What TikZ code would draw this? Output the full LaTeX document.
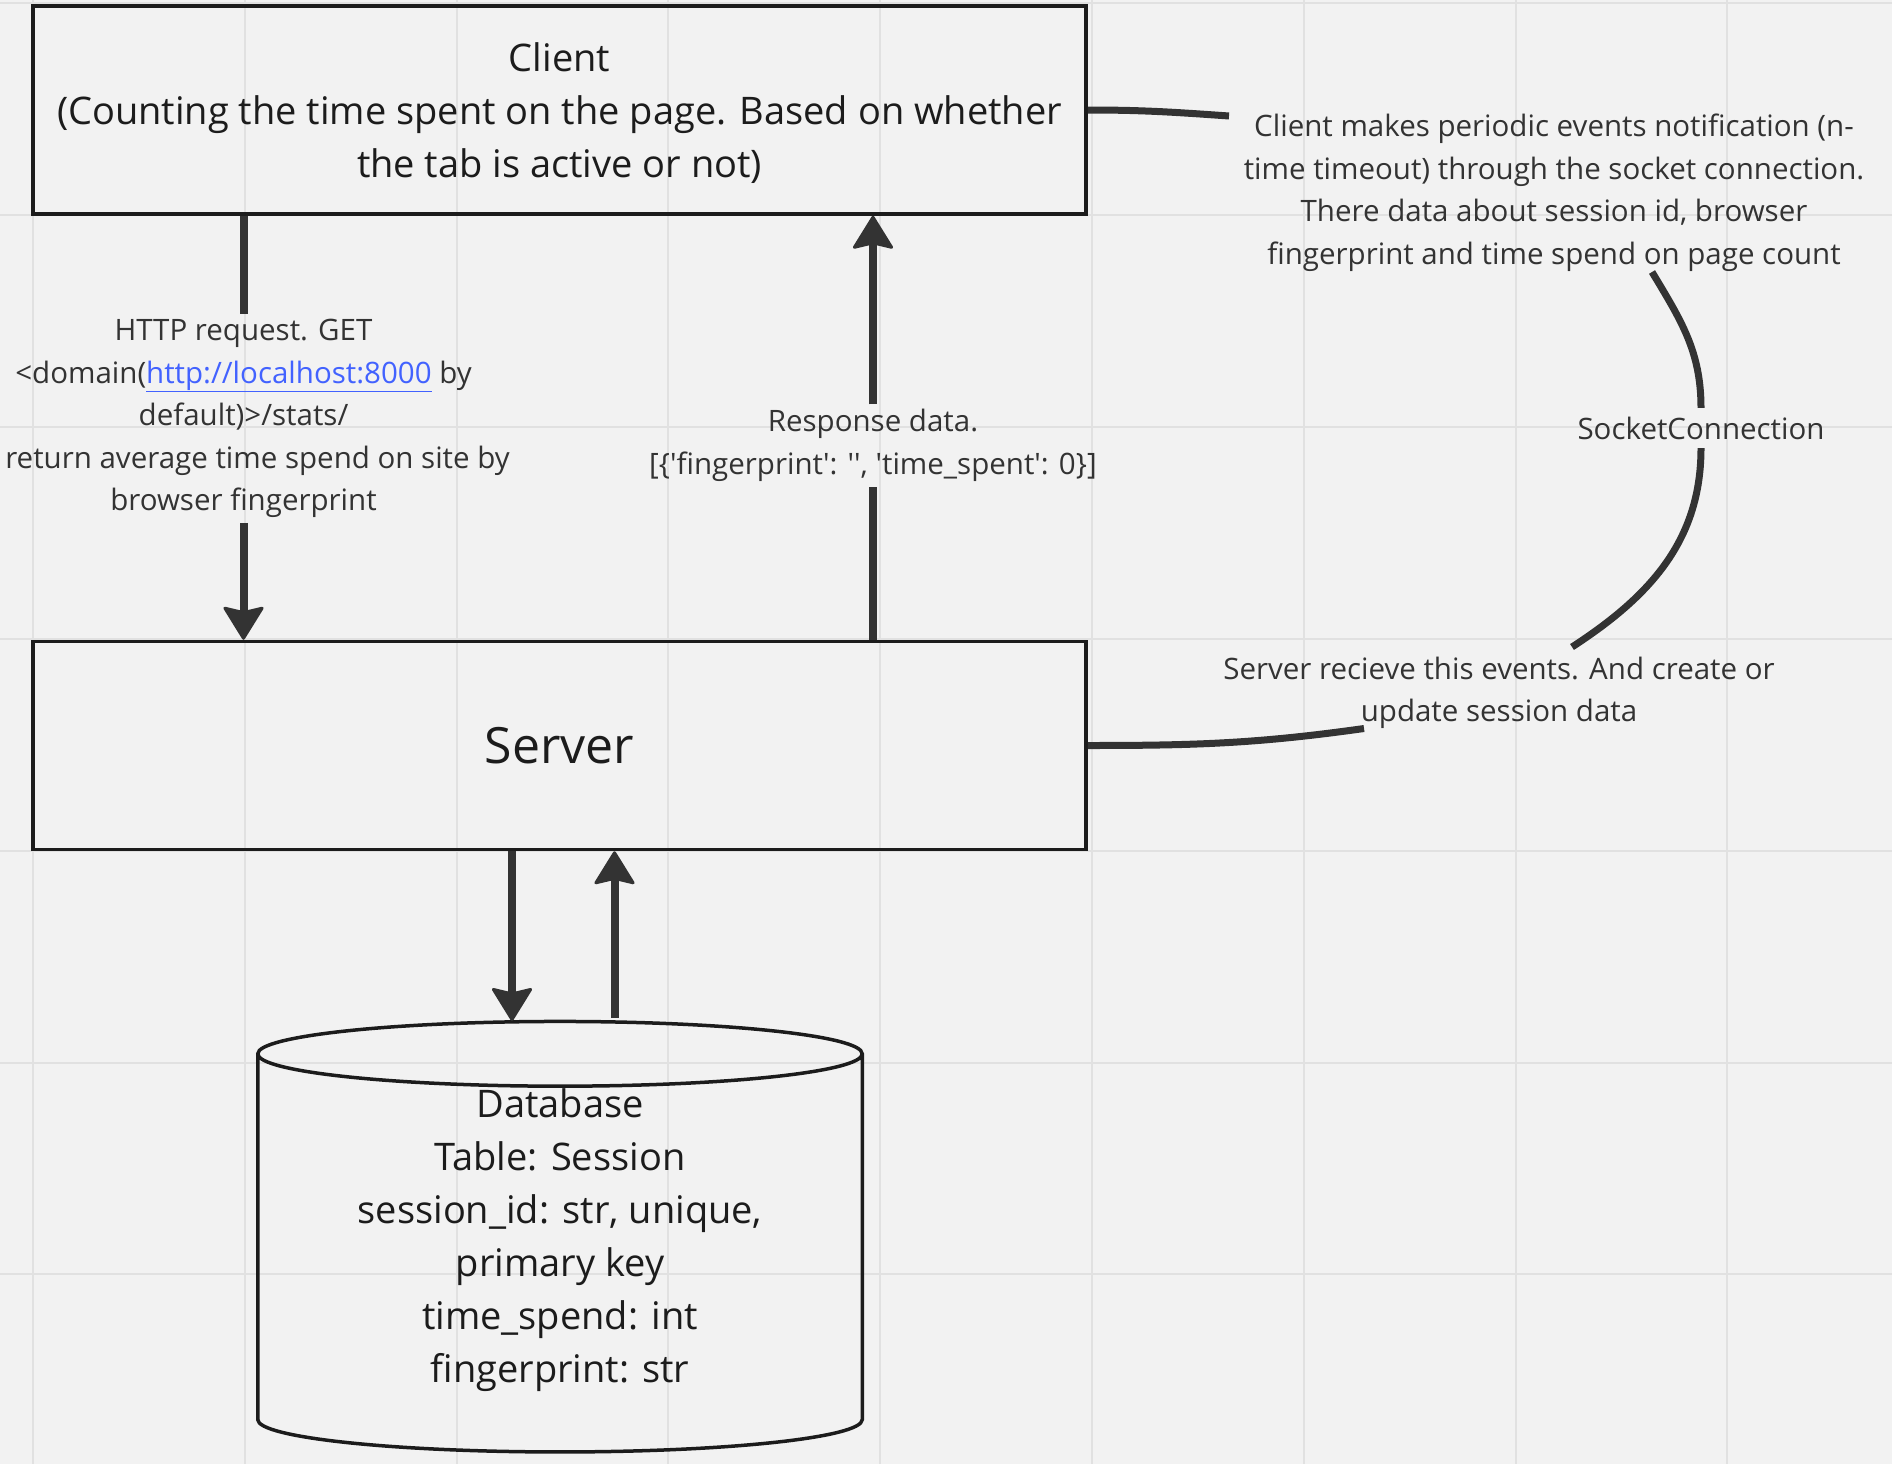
\documentclass[tikz,border=0pt]{standalone}
\usepackage{fontspec}
\setmainfont{Open Sans}
\usetikzlibrary{arrows.meta,shapes.geometric}
\definecolor{bgcol}{HTML}{F2F2F2}
\definecolor{gridcol}{HTML}{E1E1E1}
\definecolor{boxcol}{HTML}{1C1C1C}
\definecolor{linecol}{HTML}{333333}
\definecolor{txtcol}{HTML}{1C1C1C}
\definecolor{lblcol}{HTML}{333333}
\definecolor{linkcol}{HTML}{4262FF}
\tikzset{
  box/.style={draw=boxcol, line width=3.5pt, minimum width=1053pt, minimum height=208pt, inner sep=0pt, align=center, text=txtcol, font=\fontsize{38}{53}\selectfont},
  lbl/.style={align=center, text=lblcol, inner sep=5pt, font=\fontsize{29.5}{42.5}\selectfont},
  arr/.style={line width=8pt, draw=linecol, -{Stealth[length=35pt, width=43pt, inset=5pt, line width=3pt, round]}},
  conn/.style={line width=8pt, draw=linecol},
  sockline/.style={line width=7pt, draw=linecol},
  gridline/.style={draw=gridcol, line width=2pt}
}
\begin{document}
\begin{tikzpicture}[x=1pt, y=1pt]
\useasboundingbox (0,0) rectangle (1892,-1464);
\fill[bgcol] (0,0) rectangle (1892,-1464);
\foreach \k in {0,...,8} \draw[gridline] ({33+211.8*\k},0) -- ++(0,-1464);
\foreach \k in {0,...,6} \draw[gridline] (0,{-3.5-211.8*\k}) -- ++(1892,0);

\node[box, text height=141pt] (client) at (559.5,-110) {Client\\(Counting the time spent on the page. Based on whether\\the tab is active or not)};
\node[box, font=\fontsize{50}{60}\selectfont] (server) at (559.5,-745.5) {Server};
\node[cylinder, shape border rotate=90, aspect=0.16, draw=boxcol, line width=3.5pt, minimum width=604.5pt, minimum height=430.5pt, inner sep=0pt, align=center, text=txtcol, text depth=36.5pt, font=\fontsize{38}{53}\selectfont] (db) at (560,-1253.75) {Database\\Table: Session\\session\_id: str, unique,\\primary key\\time\_spend: int\\fingerprint: str};

\node[lbl] (httplbl) at (243.5,-418.5) {HTTP request. GET\\<domain(\textcolor{linkcol}{\underline{http://localhost:8000}} by\\default)>/stats/\\\hspace*{28pt}return average time spend on site by\\browser fingerprint};
\node[lbl] (resp) at (873,-445.5) {Response data.\\{}[\{\textquotesingle fingerprint\textquotesingle: \textquotesingle\textquotesingle, \textquotesingle time\_spent\textquotesingle: 0\}]};

\draw[conn] (client.south -| httplbl) -- (httplbl.north);
\draw[arr] (httplbl.south) -- (server.north -| httplbl);
\draw[conn] (server.north -| resp) -- (resp.south);
\draw[arr] (resp.north) -- (client.south -| resp);

\coordinate (dbin) at (512,-1021);
\coordinate (dbout) at (614.5,-1018);
\draw[arr] (server.south -| dbin) -- (dbin);
\draw[arr] (dbout) -- (server.south -| dbout);

\node[lbl] (cmsg) at (1554,-193) {Client makes periodic events notification (n-\\time timeout) through the socket connection.\\There data about session id, browser\\fingerprint and time spend on page count};
\node[lbl, inner sep=0pt, minimum height=40pt] (sock) at (1701,-428) {SocketConnection};
\node[lbl] (smsg) at (1499,-693) {Server recieve this events. And create or\\update session data};

\coordinate (c1) at (1229,-116);
\coordinate (c2) at (1652,-272);
\coordinate (c3) at (1572,-647);
\coordinate (c4) at (1364,-728.5);
\draw[sockline] (client.east) to[out=0, in=176] (c1);
\draw[sockline] (c2) to[out=-59, in=90] (sock.north);
\draw[sockline] (sock.south) to[out=-90, in=33] (c3);
\draw[sockline] (c4) to[out=188, in=0] (server.east);
\end{tikzpicture}
\end{document}
